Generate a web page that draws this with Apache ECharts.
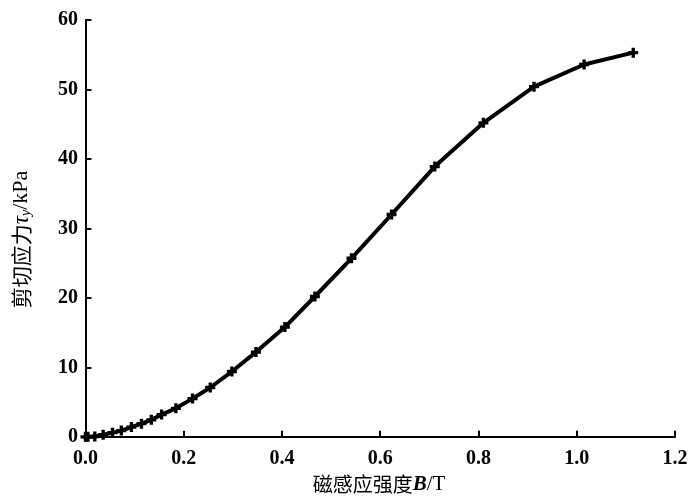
<!DOCTYPE html>
<html>
<head>
<meta charset="utf-8">
<script src="https://cdn.jsdelivr.net/npm/echarts@6/dist/echarts.min.js"></script>
<style>html,body{margin:0;padding:0;background:#fff;}#c{width:700px;height:502px;}</style>
</head>
<body>
<div id="c"></div>
<script>
const bValues = [0.0, 0.005, 0.019, 0.036, 0.055, 0.073, 0.0935, 0.114, 0.134, 0.155, 0.184, 0.218, 0.254, 0.298, 0.347, 0.406, 0.467, 0.5415, 0.623, 0.711, 0.810, 0.913, 1.015, 1.115];
const tauValues = [0.0, 0.0, 0.05, 0.3, 0.6, 0.9, 1.4, 1.9, 2.45, 3.2, 4.1, 5.5, 7.1, 9.4, 12.2, 15.8, 20.2, 25.7, 32.0, 38.9, 45.2, 50.4, 53.6, 55.3];
const xTicks = [0, 0.2, 0.4, 0.6, 0.8, 1.0, 1.2];
const yTicks = [0, 10, 20, 30, 40, 50, 60];

const data = bValues.map((b, i) => [b, tauValues[i]]);
const serif = '"Liberation Serif", "DejaVu Serif", serif';
const cjk = '"Noto Sans CJK SC", sans-serif';

const chart = echarts.init(document.getElementById('c'), null, {renderer: 'canvas'});
chart.setOption({
  animation: false,
  backgroundColor: '#fff',
  grid: {left: 83, right: 25, top: 20, bottom: 61, containLabel: false},
  xAxis: {
    type: 'value', min: -0.005, max: 1.2,
    name: '{a|磁感应强度}{b|B}{c|/T}',
    nameLocation: 'middle', nameGap: 30,
    nameTextStyle: {rich: {
      a: {fontFamily: cjk, fontSize: 20, color: '#000'},
      b: {fontFamily: serif, fontSize: 21, fontStyle: 'italic', fontWeight: 'bold', color: '#000'},
      c: {fontFamily: serif, fontSize: 21, color: '#000'}
    }},
    axisLine: {show: true, lineStyle: {color: '#000', width: 2}},
    axisTick: {show: true, inside: true, length: 6, customValues: xTicks, lineStyle: {color: '#000', width: 2}},
    axisLabel: {customValues: xTicks, formatter: v => v.toFixed(1), fontFamily: serif, fontWeight: 'bold', fontSize: 20, color: '#000', margin: 8},
    splitLine: {show: false}
  },
  yAxis: {
    type: 'value', min: -0.6, max: 60,
    name: '{a|剪切应力}{t|τ}{s|y}{c|/kPa}',
    nameLocation: 'middle', nameGap: 50, nameRotate: 90,
    nameTextStyle: {padding: [0, 18, 0, 0], rich: {
      a: {fontFamily: cjk, fontSize: 21, color: '#000'},
      t: {fontFamily: serif, fontSize: 23, fontStyle: 'italic', color: '#000'},
      s: {fontFamily: serif, fontSize: 14, fontStyle: 'italic', color: '#000', verticalAlign: 'bottom', padding: [8, 0, 0, 0]},
      c: {fontFamily: serif, fontSize: 22, color: '#000'}
    }},
    axisLine: {show: true, lineStyle: {color: '#000', width: 2}},
    axisTick: {show: true, inside: true, length: 6, customValues: yTicks, lineStyle: {color: '#000', width: 2}},
    axisLabel: {customValues: yTicks, fontFamily: serif, fontWeight: 'bold', fontSize: 20, color: '#000', margin: 5},
    splitLine: {show: false}
  },
  series: [{
    type: 'line',
    data: data,
    smooth: false,
    symbol: 'path://M-1,-3H1V-1H3V1H1V3H-1V1H-3V-1H-1Z',
    symbolSize: 10,
    showAllSymbol: true,
    itemStyle: {color: '#000'},
    lineStyle: {color: '#000', width: 4},
    clip: false
  }]
});
</script>
</body>
</html>
